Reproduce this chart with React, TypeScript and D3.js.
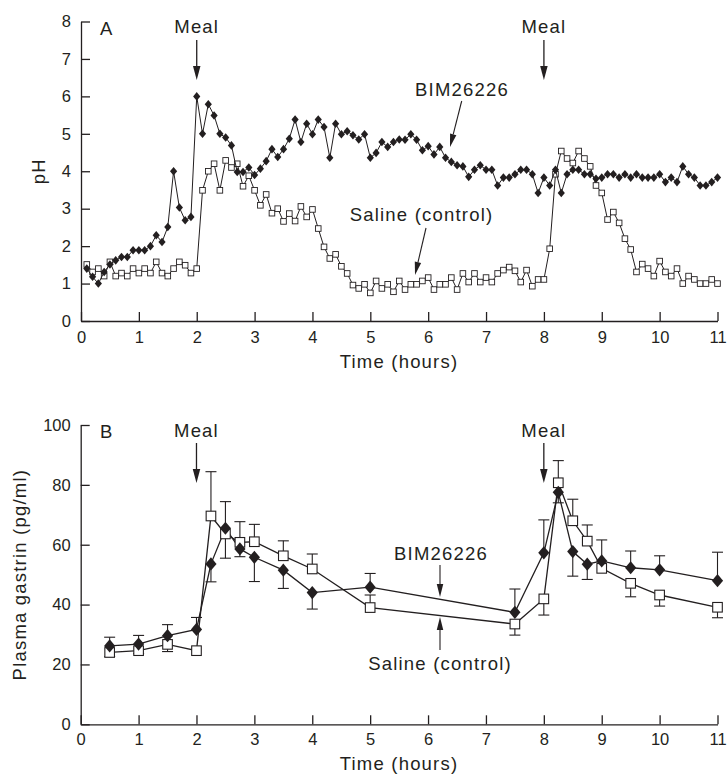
import React, { useEffect, useRef } from 'react'
import * as d3 from 'd3'

// Panel A: intragastric pH, one reading every 6 min (0.1 h), from 0.1 h to 11 h
const sampleStepA = 0.1
const phBim = [
  1.40, 1.18, 1.00, 1.31, 1.51, 1.62, 1.71, 1.71, 1.89, 1.89,
  1.89, 2.00, 2.29, 2.11, 2.51, 4.00, 3.03, 2.69, 2.78, 6.00,
  5.00, 5.79, 5.49, 5.00, 4.90, 4.69, 3.98, 3.98, 4.10, 3.90,
  4.07, 4.27, 4.59, 4.38, 4.59, 4.87, 5.38, 4.78, 5.27, 4.99,
  5.38, 5.18, 4.36, 5.27, 4.99, 5.07, 4.96, 4.85, 4.99, 4.36,
  4.49, 4.78, 4.65, 4.78, 4.85, 4.84, 4.99, 4.84, 4.56, 4.67,
  4.45, 4.65, 4.36, 4.25, 4.16, 4.13, 3.85, 4.04, 4.16, 4.04,
  4.04, 3.62, 3.83, 3.83, 3.92, 4.04, 4.04, 3.92, 3.42, 3.83,
  3.62, 4.04, 3.42, 3.92, 4.04, 4.04, 3.92, 3.92, 3.80, 3.83,
  3.92, 3.92, 3.83, 3.92, 3.83, 3.92, 3.83, 3.83, 3.83, 3.92,
  3.71, 3.83, 3.71, 4.13, 3.92, 3.83, 3.62, 3.62, 3.71, 3.83,
]
const phSaline = [
  1.51, 1.31, 1.40, 1.20, 1.58, 1.20, 1.28, 1.20, 1.40, 1.28,
  1.40, 1.28, 1.58, 1.28, 1.20, 1.40, 1.58, 1.49, 1.28, 1.40,
  3.49, 4.00, 4.20, 3.49, 4.29, 4.10, 4.20, 3.60, 3.88, 3.49,
  3.09, 3.38, 2.88, 3.00, 2.66, 2.87, 2.67, 3.06, 2.78, 2.98,
  2.47, 1.98, 1.67, 1.78, 1.46, 1.27, 0.96, 0.87, 0.98, 0.75,
  1.07, 0.87, 0.98, 0.78, 1.07, 0.84, 0.98, 0.98, 1.07, 1.16,
  0.84, 0.98, 0.98, 1.16, 0.84, 1.27, 1.04, 1.27, 1.04, 1.16,
  1.04, 1.27, 1.36, 1.44, 1.34, 1.04, 1.36, 0.93, 1.11, 1.11,
  1.93, 3.92, 4.54, 4.34, 4.22, 4.54, 4.34, 4.13, 3.62, 3.42,
  2.71, 2.91, 2.62, 2.20, 1.91, 1.31, 1.52, 1.40, 1.20, 1.60,
  1.31, 1.20, 1.40, 1.00, 1.20, 1.11, 1.00, 1.00, 1.11, 1.00,
]

// Panel B: plasma gastrin
const timeB = [0.5, 1, 1.5, 2, 2.25, 2.5, 2.75, 3, 3.5, 4, 5, 7.5, 8, 8.25, 8.5, 8.75, 9, 9.5, 10, 11]
const gastrinBim = [26.2, 26.8, 29.6, 31.7, 53.6, 65.5, 58.6, 55.8, 51.5, 44.0, 45.8, 37.4, 57.3, 77.5, 57.7, 53.5, 54.6, 52.3, 51.6, 48.0]
// signed SEM: positive drawn upward, negative downward
const semBim = [2.9, 2.9, 3.7, 4.0, -6.0, 8.9, -2.6, -8.1, -6.1, -5.5, 4.6, 7.8, 11.0, -3.5, -8.2, -5.1, 7.0, 5.6, 4.7, 9.5]
const gastrinSaline = [24.0, 24.6, 26.7, 24.6, 69.6, 63.6, 60.8, 61.0, 56.3, 51.9, 39.0, 33.5, 41.9, 80.7, 68.0, 61.2, 52.1, 47.1, 43.2, 39.1]
const semSaline = [-1.4, -1.0, -2.4, 0, 14.8, -8.1, 6.9, 5.8, 5.0, 5.0, 4.2, -3.7, -5.4, 7.4, 7.2, 5.4, 0, -4.5, -3.7, -3.5]

const mealTimes = [2, 8]
const xTicks = [0, 1, 2, 3, 4, 5, 6, 7, 8, 9, 10, 11]
const yTicksA = [0, 1, 2, 3, 4, 5, 6, 7, 8]
const yTicksB = [0, 20, 40, 60, 80, 100]

const ink = '#231f20'
const font = '"Liberation Sans", Arial, Helvetica, sans-serif'

export default function App() {
  const ref = useRef<SVGSVGElement>(null)

  useEffect(() => {
    const svg = d3.select(ref.current)
    svg.selectAll('*').remove()

    const timeA = phBim.map((d, i) => +((i + 1) * sampleStepA).toFixed(1))

    const xA = d3.scaleLinear().domain([0, 11]).range([81, 717.5])
    const yA = d3.scaleLinear().domain([0, 8]).range([321, 21.5])
    const xB = d3.scaleLinear().domain([0, 11]).range([80.7, 717.5])
    const yB = d3.scaleLinear().domain([0, 100]).range([724.3, 425])

    const label = (x: number, y: number, txt: string, size: number, anchor = 'middle', spacing = 1.2) =>
      svg.append('text')
        .attr('x', x).attr('y', y)
        .attr('text-anchor', anchor)
        .attr('font-size', size)
        .attr('letter-spacing', spacing)
        .attr('fill', ink)
        .text(txt)

    // arrow: straight shaft ending in a filled head at (x2,y2)
    const arrow = (x1: number, y1: number, x2: number, y2: number, headLen: number, headW: number, sw: number) => {
      const ang = Math.atan2(y2 - y1, x2 - x1)
      const bx = x2 - headLen * Math.cos(ang)
      const by = y2 - headLen * Math.sin(ang)
      const px = -Math.sin(ang) * headW / 2
      const py = Math.cos(ang) * headW / 2
      svg.append('line')
        .attr('x1', x1).attr('y1', y1).attr('x2', bx).attr('y2', by)
        .attr('stroke', ink).attr('stroke-width', sw)
      svg.append('path')
        .attr('d', `M${x2},${y2}L${bx + px},${by + py}L${bx - px},${by - py}Z`)
        .attr('fill', ink)
    }

    const drawAxes = (x: d3.ScaleLinear<number, number>, y: d3.ScaleLinear<number, number>, yTicks: number[], pad: number) => {
      const gx = svg.append('g')
        .attr('transform', `translate(0,${y(0)})`)
        .call(d3.axisBottom(x).tickValues(xTicks).tickFormat(d3.format('d')).tickSizeInner(-9).tickSizeOuter(0).tickPadding(pad))
      const gy = svg.append('g')
        .attr('transform', `translate(${x(0)},0)`)
        .call(d3.axisLeft(y).tickValues(yTicks).tickFormat(d3.format('d')).tickSizeInner(-9).tickSizeOuter(0).tickPadding(10))
      for (const g of [gx, gy]) {
        g.selectAll('path, line').attr('stroke', ink).attr('stroke-width', 1.3)
        g.selectAll('text').attr('fill', ink).attr('font-size', 16.5).attr('font-family', font)
      }
    }

    svg.attr('font-family', font)

    // ---------- Panel A ----------
    drawAxes(xA, yA, yTicksA, 10)

    const lineA = d3.line<number>().x((d, i) => xA(timeA[i])).y(d => yA(d))

    svg.append('path').attr('d', lineA(phSaline)).attr('fill', 'none').attr('stroke', ink).attr('stroke-width', 1)
    svg.append('g').selectAll('rect').data(phSaline).enter().append('rect')
      .attr('x', (d, i) => xA(timeA[i]) - 2.8)
      .attr('y', d => yA(d) - 2.8)
      .attr('width', 5.6).attr('height', 5.6)
      .attr('fill', '#fff').attr('stroke', ink).attr('stroke-width', 0.9)

    svg.append('path').attr('d', lineA(phBim)).attr('fill', 'none').attr('stroke', ink).attr('stroke-width', 1)
    svg.append('g').selectAll('path').data(phBim).enter().append('path')
      .attr('d', (d, i) => {
        const cx = xA(timeA[i]), cy = yA(d)
        return `M${cx},${cy - 4.3}L${cx + 3.6},${cy}L${cx},${cy + 4.3}L${cx - 3.6},${cy}Z`
      })
      .attr('fill', ink)

    label(100, 35, 'A', 18.5, 'start', 0)
    mealTimes.forEach(t => {
      label(xA(t), 33, 'Meal', 18.5)
      arrow(xA(t), 40, xA(t), 80, 14, 7.5, 1.3)
    })
    label(462, 96, 'BIM26226', 18.5)
    arrow(461.7, 101, 450, 147, 13, 6.5, 1.1)
    label(421.5, 221, 'Saline (control)', 18.5)
    arrow(426, 228, 415, 275, 13, 6.5, 1.1)
    label(399, 368, 'Time (hours)', 18.5)
    svg.append('text')
      .attr('transform', `translate(45,${yA(4)}) rotate(-90)`)
      .attr('text-anchor', 'middle').attr('font-size', 18.5).attr('letter-spacing', 1.2)
      .attr('fill', ink).text('pH')

    // ---------- Panel B ----------
    drawAxes(xB, yB, yTicksB, 9)

    const lineB = d3.line<number>().x((d, i) => xB(timeB[i])).y(d => yB(d))

    const errorBars = (vals: number[], sem: number[]) => {
      const g = svg.append('g').attr('stroke', ink).attr('stroke-width', 1.1)
      vals.forEach((v, i) => {
        if (!sem[i]) return
        const cx = xB(timeB[i])
        const ye = yB(v + sem[i])
        g.append('line').attr('x1', cx).attr('x2', cx).attr('y1', yB(v)).attr('y2', ye)
        g.append('line').attr('x1', cx - 5.5).attr('x2', cx + 5.5).attr('y1', ye).attr('y2', ye)
      })
    }

    errorBars(gastrinSaline, semSaline)
    errorBars(gastrinBim, semBim)

    svg.append('path').attr('d', lineB(gastrinSaline)).attr('fill', 'none').attr('stroke', ink).attr('stroke-width', 1.3)
    svg.append('path').attr('d', lineB(gastrinBim)).attr('fill', 'none').attr('stroke', ink).attr('stroke-width', 1.3)

    svg.append('g').selectAll('rect').data(gastrinSaline).enter().append('rect')
      .attr('x', (d, i) => xB(timeB[i]) - 4.8)
      .attr('y', d => yB(d) - 4.8)
      .attr('width', 9.6).attr('height', 9.6)
      .attr('fill', '#fff').attr('stroke', ink).attr('stroke-width', 1.1)

    svg.append('g').selectAll('path').data(gastrinBim).enter().append('path')
      .attr('d', (d, i) => {
        const cx = xB(timeB[i]), cy = yB(d)
        return `M${cx},${cy - 6.6}L${cx + 5.6},${cy}L${cx},${cy + 6.6}L${cx - 5.6},${cy}Z`
      })
      .attr('fill', ink)

    label(100, 438, 'B', 18.5, 'start', 0)
    mealTimes.forEach(t => {
      label(xB(t), 437, 'Meal', 18.5)
      arrow(xB(t), 443, xB(t), 483, 14, 7.5, 1.3)
    })
    label(441, 560, 'BIM26226', 18.5)
    arrow(440, 565, 440, 597, 13, 6.5, 1.1)
    label(440, 670, 'Saline (control)', 18.5)
    arrow(440, 650, 440, 617, 13, 6.5, 1.1)
    label(399, 770, 'Time (hours)', 18.5)
    svg.append('text')
      .attr('transform', `translate(26,${yB(50)}) rotate(-90)`)
      .attr('text-anchor', 'middle').attr('font-size', 18.5).attr('letter-spacing', 1.2)
      .attr('fill', ink).text('Plasma gastrin (pg/ml)')
  }, [])

  return (
    <svg ref={ref} width={728} height={775}
      style={{ position: 'absolute', left: 0, top: 0, background: '#fff' }} />
  )
}
